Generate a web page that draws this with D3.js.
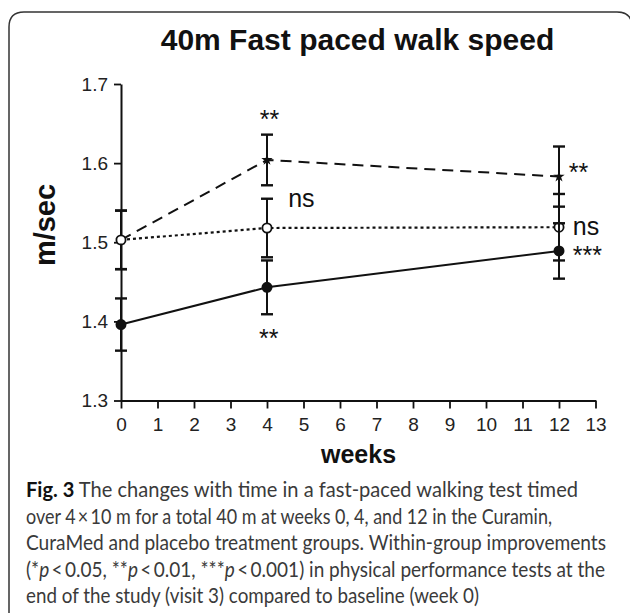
<!DOCTYPE html>
<html>
<head>
<meta charset="utf-8">
<script src="https://cdn.jsdelivr.net/npm/d3@7"></script>
<style>
  body { margin: 0; background: #fff; }
  svg { display: block; }
</style>
</head>
<body>
<svg id="chart"></svg>
<script>
// values
const weeks = [0, 4, 12];
const curaminMean = [1.503, 1.604, 1.583];   // dashed
const curaminErr  = [0.037, 0.032, 0.038];
const curamedMean = [1.503, 1.518, 1.519];   // dotted, open circles
const curamedErr  = [0.037, 0.037, 0.042];
const placeboMean = [1.396, 1.443, 1.489];   // solid, filled circles
const placeboErr  = [0.033, 0.034, 0.035];

const yTicks = [1.3, 1.4, 1.5, 1.6, 1.7];
const xTicks = d3.range(0, 14);

// significance marks: text, week, value (anchor of the text baseline start)
const marks = [
  { text: "**",  week: 3.8,   value: 1.644 },
  { text: "**",  week: 3.78,  value: 1.368 },
  { text: "ns",  week: 4.58,  value: 1.544 },
  { text: "**",  week: 12.27, value: 1.577 },
  { text: "ns",  week: 12.38, value: 1.509 },
  { text: "***", week: 12.38, value: 1.473 }
];

const captionLines = [
  [{ t: "Fig. 3", b: true }, { t: " The changes with time in a fast-paced walking test timed" }],
  [{ t: "over 4\u2009\u00d7\u200910 m for a total 40 m at weeks 0, 4, and 12 in the Curamin," }],
  [{ t: "CuraMed and placebo treatment groups. Within-group improvements" }],
  [{ t: "(*" }, { t: "p", i: true }, { t: "\u2009<\u20090.05, **" }, { t: "p", i: true },
   { t: "\u2009<\u20090.01, ***" }, { t: "p", i: true }, { t: "\u2009<\u20090.001) in physical performance tests at the" }],
  [{ t: "end of the study (visit 3) compared to baseline (week 0)" }]
];
const captionWidths = [552, 526, 580, 579, 453];

const width = 630, height = 613;
const svg = d3.select('#chart').attr('width', width).attr('height', height);

// frame
svg.append('path')
  .attr('d', 'M9,613 V27 Q9,12 24,12 H617 Q632,12 632,27 V613')
  .attr('fill', 'none')
  .attr('stroke', '#333')
  .attr('stroke-width', 1.5);

const x = d3.scaleLinear().domain([0, 13]).range([121, 595.5]);
const y = d3.scaleLinear().domain([1.3, 1.7]).range([400.5, 84]);

// title
svg.append('text')
  .attr('x', 357.5).attr('y', 50)
  .attr('text-anchor', 'middle')
  .style('font', 'bold 30px "Liberation Sans", Arial, sans-serif')
  .attr('fill', '#111')
  .text('40m Fast paced walk speed');

// y axis, minor ticks first
svg.append('g')
  .attr('transform', 'translate(121,0)')
  .call(d3.axisLeft(y).tickValues(d3.range(13, 35, 1).map(d => d / 50).filter(d => !yTicks.includes(+d.toFixed(2))))
    .tickSize(5).tickSizeOuter(0).tickFormat(''))
  .call(g => g.select('.domain').remove())
  .selectAll('line').attr('stroke', '#111').attr('stroke-width', 1.6);

const yAxis = svg.append('g')
  .attr('transform', 'translate(121,0)')
  .call(d3.axisLeft(y).tickValues(yTicks).tickSize(7).tickSizeOuter(0).tickPadding(6).tickFormat(d3.format('.1f')));
yAxis.select('.domain').attr('stroke', '#111').attr('stroke-width', 2);
yAxis.selectAll('line').attr('stroke', '#111').attr('stroke-width', 1.8);
yAxis.selectAll('text')
  .style('font', '19px "Liberation Sans", Arial, sans-serif')
  .attr('fill', '#222');

const xAxis = svg.append('g')
  .attr('transform', 'translate(0,400.5)')
  .call(d3.axisBottom(x).tickValues(xTicks).tickSize(8).tickSizeOuter(0).tickPadding(9));
xAxis.select('.domain').attr('stroke', '#111').attr('stroke-width', 2);
xAxis.selectAll('line').attr('stroke', '#111').attr('stroke-width', 1.8);
xAxis.selectAll('text')
  .style('font', '19px "Liberation Sans", Arial, sans-serif')
  .attr('fill', '#222');

// axis titles
svg.append('text')
  .attr('transform', 'translate(55,225) rotate(-90)')
  .attr('text-anchor', 'middle')
  .style('font', 'bold 29px "Liberation Sans", Arial, sans-serif')
  .attr('fill', '#111')
  .text('m/sec');

svg.append('text')
  .attr('x', 358.5).attr('y', 463)
  .attr('text-anchor', 'middle')
  .style('font', 'bold 25px "Liberation Sans", Arial, sans-serif')
  .attr('fill', '#111')
  .text('weeks');

// series
const series = [
  { mean: curaminMean, err: curaminErr, dash: '11,7', marker: 'star' },
  { mean: curamedMean, err: curamedErr, dash: '3,3', marker: 'open' },
  { mean: placeboMean, err: placeboErr, dash: null, marker: 'filled' }
];

const line = d3.line().x(d => x(d.w)).y(d => y(d.v));

series.forEach(s => {
  const pts = weeks.map((w, i) => ({ w: w, v: s.mean[i], e: s.err[i] }));
  const g = svg.append('g');

  // error bars
  const eb = g.selectAll('g.eb').data(pts).enter().append('g').attr('class', 'eb');
  eb.append('line')
    .attr('x1', d => x(d.w)).attr('x2', d => x(d.w))
    .attr('y1', d => y(d.v - d.e)).attr('y2', d => y(d.v + d.e))
    .attr('stroke', '#111').attr('stroke-width', 2);
  [-1, 1].forEach(sign => {
    eb.append('line')
      .attr('x1', d => x(d.w) - 6).attr('x2', d => x(d.w) + 6)
      .attr('y1', d => y(d.v + sign * d.e)).attr('y2', d => y(d.v + sign * d.e))
      .attr('stroke', '#111').attr('stroke-width', 2.4);
  });

  g.append('path')
    .datum(pts)
    .attr('d', line)
    .attr('fill', 'none')
    .attr('stroke', '#111')
    .attr('stroke-width', s.marker === 'open' ? 2.2 : 2)
    .attr('stroke-dasharray', s.dash);

  if (s.marker === 'star') {
    g.selectAll('path.m').data(pts).enter().append('path')
      .attr('class', 'm')
      .attr('transform', d => `translate(${x(d.w)},${y(d.v)})`)
      .attr('d', d3.symbol(d3.symbolStar, 40))
      .attr('fill', '#111');
  } else {
    g.selectAll('circle').data(pts).enter().append('circle')
      .attr('cx', d => x(d.w)).attr('cy', d => y(d.v))
      .attr('r', 4.6)
      .attr('fill', s.marker === 'open' ? '#fff' : '#111')
      .attr('stroke', '#111')
      .attr('stroke-width', 1.8);
  }
});

// significance labels
svg.selectAll('text.mark').data(marks).enter().append('text')
  .attr('class', 'mark')
  .attr('x', d => x(d.week)).attr('y', d => y(d.value))
  .style('font', '25px "Liberation Sans", Arial, sans-serif')
  .attr('fill', '#111')
  .text(d => d.text);

// caption
const cap = svg.append('g');
captionLines.forEach((parts, i) => {
  const t = cap.append('text')
    .attr('x', 26).attr('y', 497 + i * 26.5)
    .style('font-family', 'Lato, "Open Sans", sans-serif')
    .style('font-size', '21px')
    .attr('fill', '#3a3a3a')
    .attr('textLength', captionWidths[i])
    .attr('lengthAdjust', 'spacingAndGlyphs');
  parts.forEach(p => {
    t.append('tspan')
      .attr('font-weight', p.b ? 'bold' : null)
      .attr('font-style', p.i ? 'italic' : null)
      .attr('fill', p.b ? '#111' : null)
      .text(p.t);
  });
});
</script>
</body>
</html>
